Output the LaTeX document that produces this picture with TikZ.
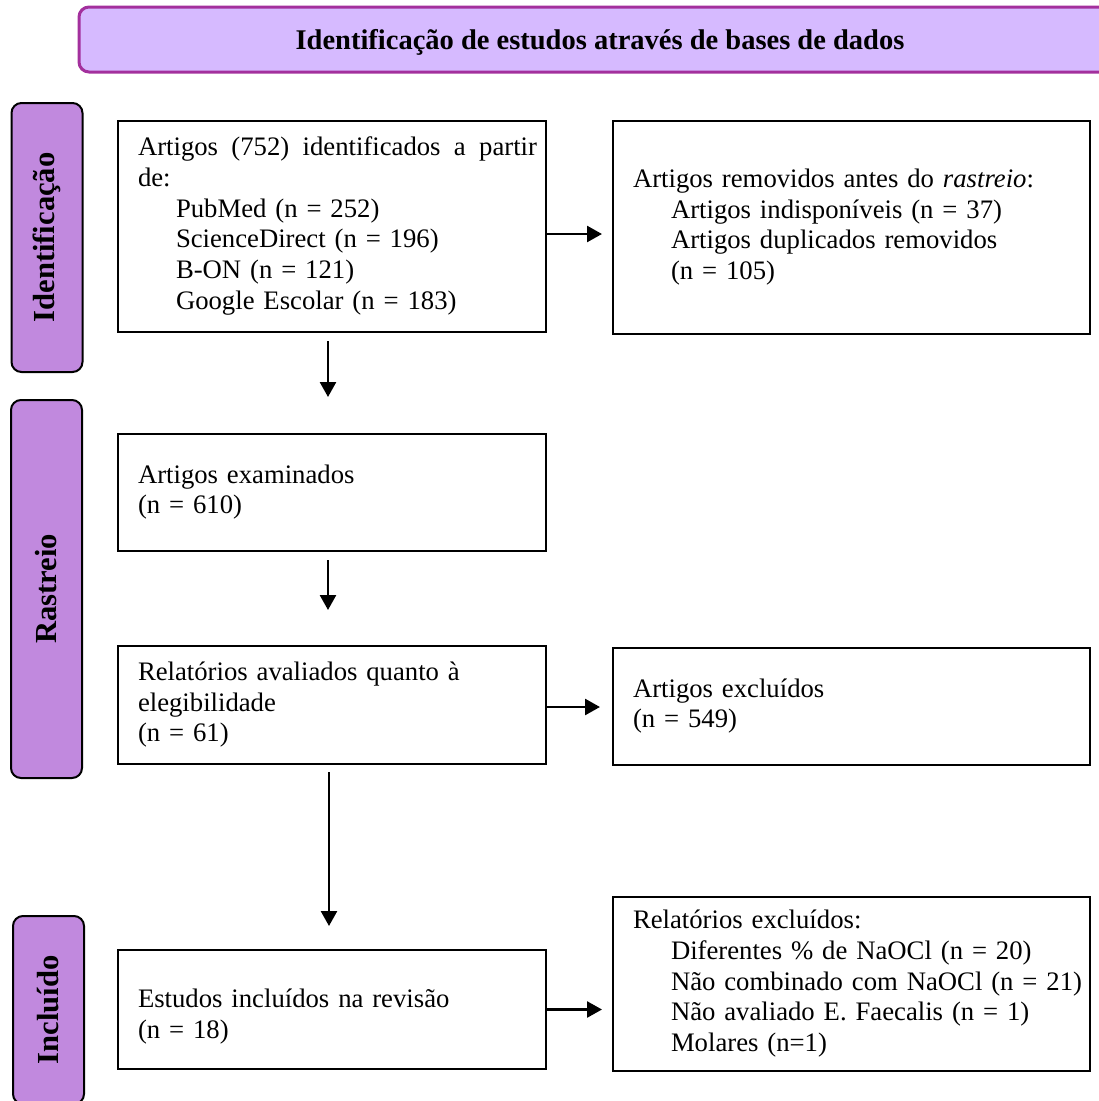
\documentclass[tikz,border=0pt]{standalone}
\usepackage{fontspec}
\setmainfont{Liberation Serif}
\usetikzlibrary{arrows.meta}
\newcommand\fsz{\fontsize{26.7pt}{30.7pt}\selectfont}
\newcommand\ind{\hspace*{38pt}}
\definecolor{hdrfill}{RGB}{214,186,255}
\definecolor{hdrline}{RGB}{163,48,157}
\definecolor{barfill}{RGB}{193,137,222}
\tikzset{
  box/.style={draw=black, line width=2pt, fill=white, anchor=north west,
    inner xsep=20pt, inner ysep=0pt, font=\fsz},
  lbox/.style={box, minimum width=428pt, text width=388pt},
  rbox/.style={box, minimum width=477pt, text width=437pt},
  bar/.style={draw=black, line width=2pt, fill=barfill, rounded corners=10pt,
    rotate=90, font=\fontsize{30.6pt}{35pt}\selectfont\bfseries, inner sep=0pt, minimum height=71pt},
  hdr/.style={draw=hdrline, line width=3pt, fill=hdrfill, rounded corners=10pt,
    font=\fontsize{28.5pt}{32pt}\selectfont\bfseries, inner sep=0pt},
  arr/.style={line width=2.6pt, -{Triangle[length=15pt,width=16pt]}},
}
\begin{document}
\begin{tikzpicture}[x=1pt,y=-1pt]
\useasboundingbox (0,0) rectangle (1099,1101);
% header
\node[hdr, minimum width=1042pt, minimum height=65pt] (hdr) at (600,39.5)
  {\raisebox{-3pt}[\height][\depth]{Identificação de estudos através de bases de dados}};
% side bars
\node[bar, minimum width=269pt] (barI) at (47,237.5) {Identificação};
\node[bar, minimum width=378pt] (barR) at (46.5,589) {Rastreio};
\node[bar, minimum width=188pt] (barC) at (48.5,1010) {Incluído};
% boxes
\node[lbox, minimum height=211pt] (b1) at (117,120) {\begin{tabular}{@{}l@{}}
\makebox[399pt][l]{Artigos\hfill(752)\hfill identificados\hfill a\hfill partir}\\
de:\\
\ind PubMed (n = 252)\\
\ind ScienceDirect (n = 196)\\
\ind B-ON (n = 121)\\
\ind Google Escolar (n = 183)
\end{tabular}};
\node[rbox, minimum height=213pt] (r1) at (612,120) {\begin{tabular}{@{}l@{}}
Artigos removidos antes do \textit{rastreio}:\\
\ind Artigos indisponíveis (n = 37)\\
\ind Artigos duplicados removidos\\
\ind (n = 105)
\end{tabular}};
\node[lbox, minimum height=117pt] (b2) at (117,433) {\begin{tabular}{@{}l@{}}
Artigos examinados\\
(n = 610)
\end{tabular}};
\node[lbox, minimum height=118pt] (b3) at (117,645) {\begin{tabular}{@{}l@{}}
Relatórios avaliados quanto à\\
elegibilidade\\
(n = 61)
\end{tabular}};
\node[rbox, minimum height=117pt] (b4) at (612,647) {\begin{tabular}{@{}l@{}}
Artigos excluídos\\
(n = 549)
\end{tabular}};
\node[rbox, minimum height=174pt] (b5) at (612,896) {\begin{tabular}{@{}l@{}}
Relatórios excluídos:\\
\ind Diferentes \% de NaOCl (n = 20)\\
\ind Não combinado com NaOCl (n = 21)\\
\ind Não avaliado E. Faecalis (n = 1)\\
\ind Molares (n=1)
\end{tabular}};
\node[lbox, minimum height=119pt] (b6) at (117,949) {\raisebox{-7pt}[\height][\depth]{\begin{tabular}{@{}l@{}}
Estudos incluídos na revisão\\
(n = 18)
\end{tabular}}};
% connectors
\draw[arr, shorten >=10pt] ([yshift=-7.5pt]b1.east) -- ([yshift=-7.5pt]b1.east -| r1.west);
\draw[arr, shorten <=8pt, shorten >=36pt] ([xshift=-4pt]b1.south) -- ([xshift=-4pt]b2.north);
\draw[arr, shorten <=8pt, shorten >=35pt] ([xshift=-4pt]b2.south) -- ([xshift=-4pt]b3.north);
\draw[arr, shorten >=12pt] ([yshift=-2pt]b3.east) -- ([yshift=-2pt]b3.east -| b4.west);
\draw[arr, shorten <=7pt, shorten >=23pt] ([xshift=-3pt]b3.south) -- ([xshift=-3pt]b6.north);
\draw[arr, shorten >=10pt] (b6.east) -- (b6.east -| b5.west);
\end{tikzpicture}
\end{document}
